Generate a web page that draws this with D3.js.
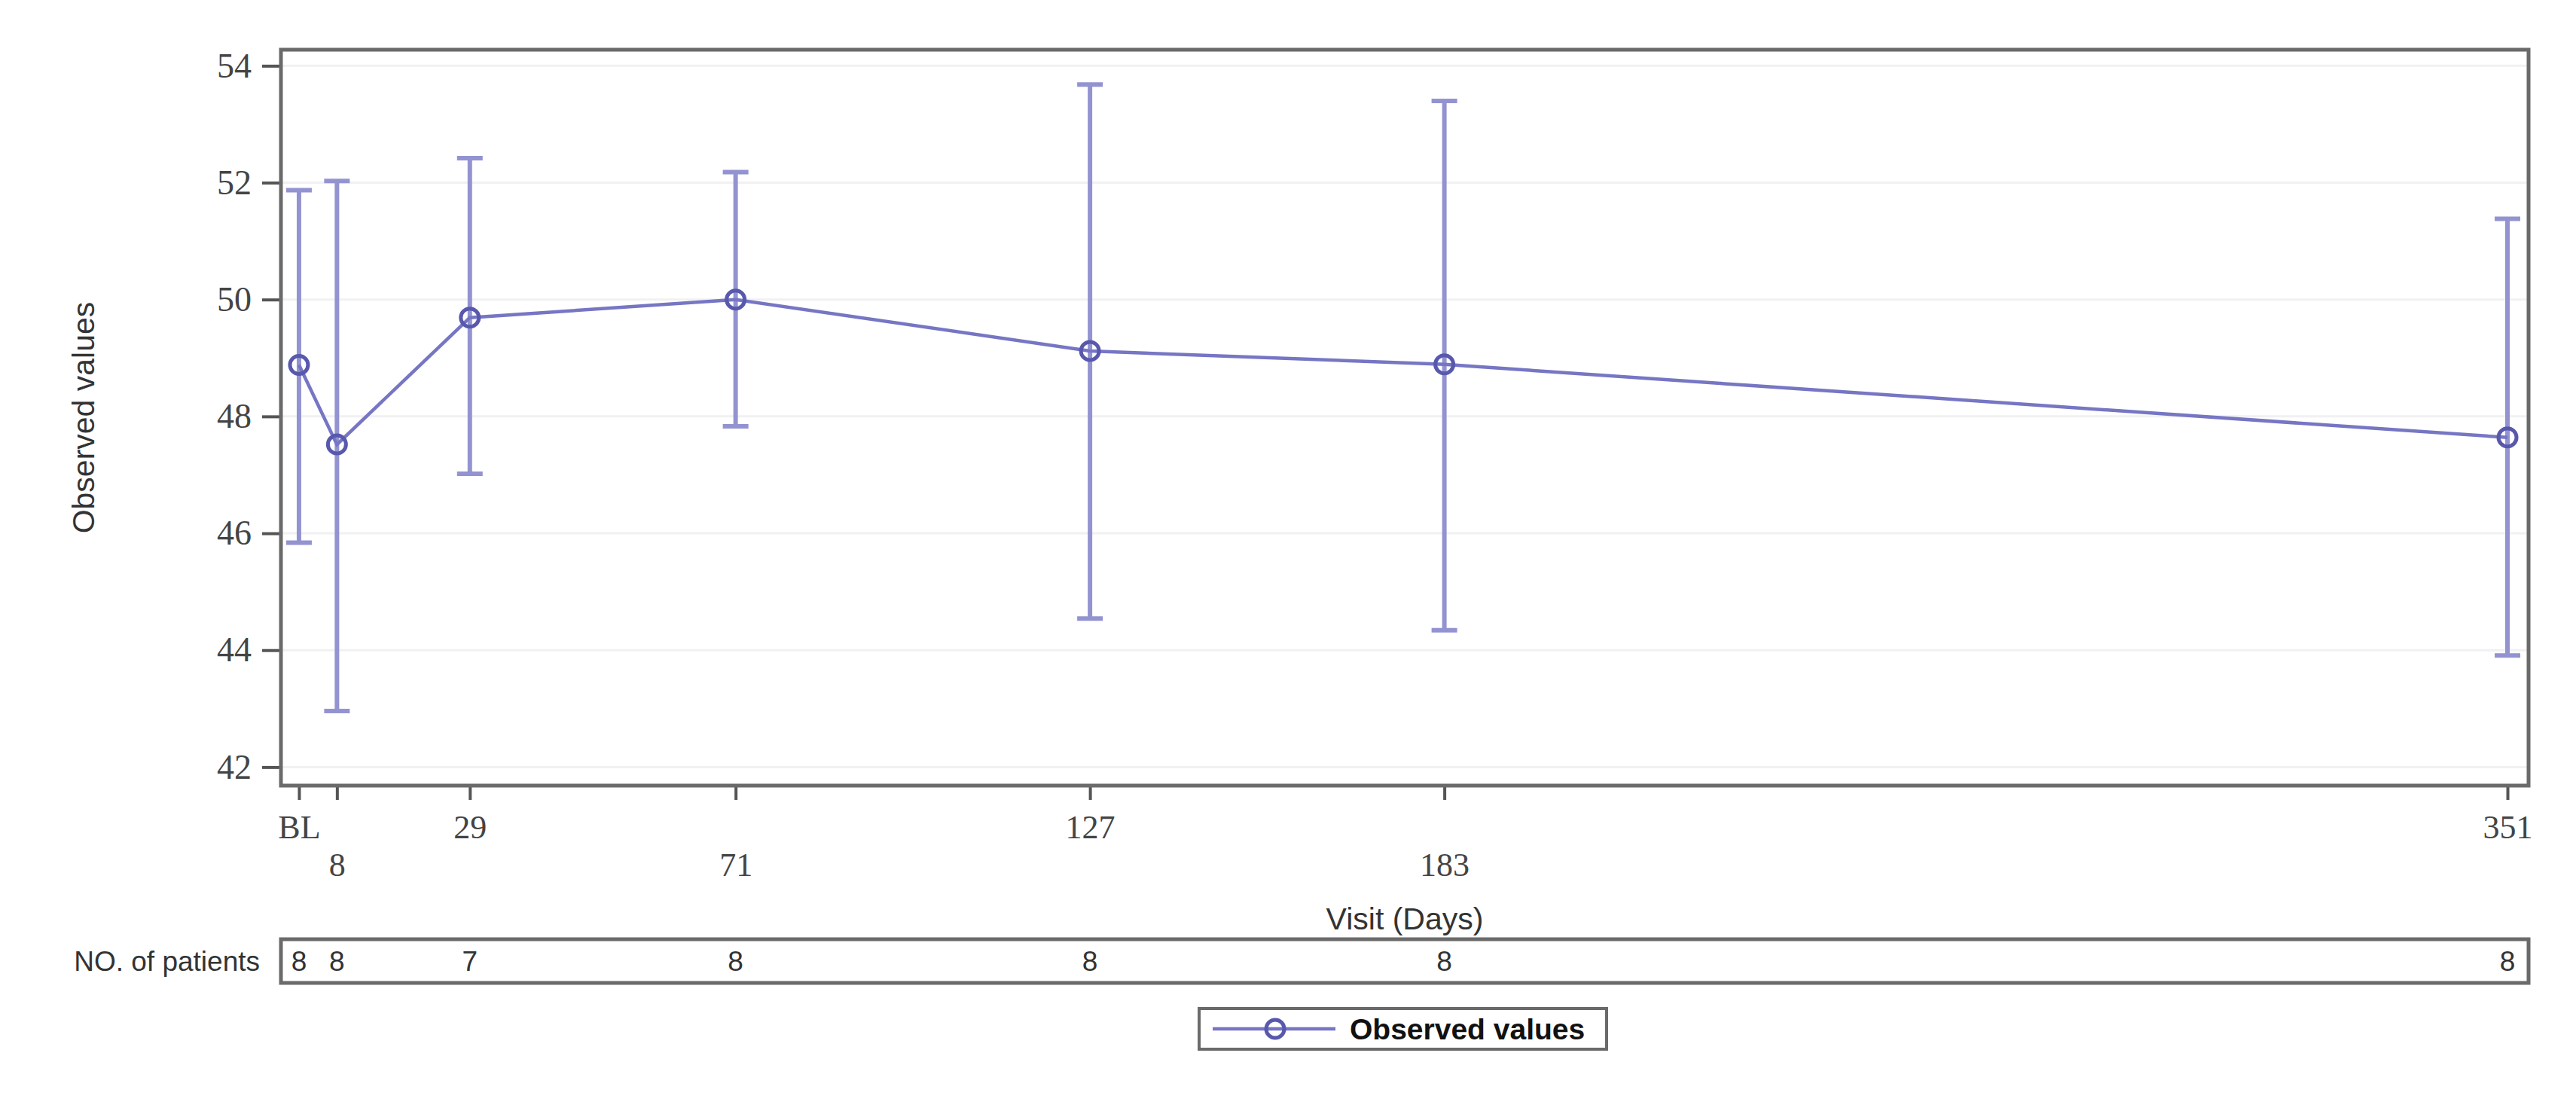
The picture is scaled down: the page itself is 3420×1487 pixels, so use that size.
<!DOCTYPE html>
<html>
<head>
<meta charset="utf-8">
<script src="https://cdn.jsdelivr.net/npm/d3@7"></script>
<style>
  html, body { margin: 0; padding: 0; background: #fff; }
  svg { display: block; }
</style>
</head>
<body>
<script>
// ---- data ----
const visitDays   = [2, 8, 29, 71, 127, 183, 351];
const visitLabels = ["BL", "8", "29", "71", "127", "183", "351"];
const meanValues  = [48.88, 47.52, 49.69, 50.00, 49.12, 48.89, 47.64];
const upperValues = [51.87, 52.03, 52.42, 52.18, 53.68, 53.40, 51.38];
const lowerValues = [45.84, 42.96, 47.02, 47.83, 44.54, 44.34, 43.91];
const patientCounts = [8, 8, 7, 8, 8, 8, 8];
const yTickValues = [42, 44, 46, 48, 50, 52, 54];
const seriesName = "Observed values";

// ---- layout ----
const W = 3420, H = 1487;
const plot = { left: 373, right: 3357, top: 66, bottom: 1043 };
const lineColor = "#7676c4";
const barColor = "#9393d2";
const markColor = "#5858ad";
const frameColor = "#6a6a6a";

const svg = d3.select("body").append("svg").attr("width", W).attr("height", H);

const x = d3.scaleLinear().domain([-0.85, 354.33]).range([plot.left, plot.right]);
const y = d3.scaleLinear().domain([41.683, 54.275]).range([plot.bottom, plot.top]);

const data = visitDays.map((d, i) => ({
  day: d, label: visitLabels[i], mean: meanValues[i],
  hi: upperValues[i], lo: lowerValues[i], n: patientCounts[i]
}));

// gridlines
svg.append("g").selectAll("line").data(yTickValues).join("line")
  .attr("x1", plot.left).attr("x2", plot.right)
  .attr("y1", d => y(d)).attr("y2", d => y(d))
  .attr("stroke", "#f1f1f3").attr("stroke-width", 3);

// y axis
const yAxis = svg.append("g").attr("transform", `translate(${plot.left},0)`)
  .call(d3.axisLeft(y).tickValues(yTickValues).tickSize(25).tickPadding(14).tickFormat(d3.format("d")));
yAxis.select(".domain").remove();
yAxis.selectAll(".tick line").attr("stroke", "#555").attr("stroke-width", 4);
yAxis.selectAll(".tick text").attr("fill", "#444")
  .style("font-family", "'Liberation Serif', 'DejaVu Serif', serif").style("font-size", "46px");

// x axis
const xAxis = svg.append("g").attr("transform", `translate(0,${plot.bottom})`)
  .call(d3.axisBottom(x).tickValues(visitDays).tickSize(19)
    .tickFormat((d, i) => visitLabels[i]));
xAxis.select(".domain").remove();
xAxis.selectAll(".tick line").attr("stroke", "#555").attr("stroke-width", 4);
xAxis.selectAll(".tick text")
  .attr("fill", "#444").attr("dy", 0)
  .attr("y", (d, i) => i % 2 === 0 ? 70 : 120)
  .style("font-family", "'Liberation Serif', 'DejaVu Serif', serif").style("font-size", "44px");

// frame
svg.append("rect")
  .attr("x", plot.left).attr("y", plot.top)
  .attr("width", plot.right - plot.left).attr("height", plot.bottom - plot.top)
  .attr("fill", "none").attr("stroke", frameColor).attr("stroke-width", 5);

// error bars
const eb = svg.append("g");
eb.selectAll("line.v").data(data).join("line").attr("class", "v")
  .attr("x1", d => x(d.day)).attr("x2", d => x(d.day))
  .attr("y1", d => y(d.hi)).attr("y2", d => y(d.lo))
  .attr("stroke", barColor).attr("stroke-width", 6);
["hi", "lo"].forEach(k => {
  eb.selectAll("line.c" + k).data(data).join("line").attr("class", "c" + k)
    .attr("x1", d => x(d.day) - 17).attr("x2", d => x(d.day) + 17)
    .attr("y1", d => y(d[k])).attr("y2", d => y(d[k]))
    .attr("stroke", barColor).attr("stroke-width", 6);
});

// mean line
svg.append("path").datum(data)
  .attr("d", d3.line().x(d => x(d.day)).y(d => y(d.mean)))
  .attr("fill", "none").attr("stroke", lineColor).attr("stroke-width", 4.5);

// markers
svg.append("g").selectAll("circle").data(data).join("circle")
  .attr("cx", d => x(d.day)).attr("cy", d => y(d.mean)).attr("r", 12)
  .attr("fill", "none").attr("stroke", markColor).attr("stroke-width", 5);

// axis titles
svg.append("text")
  .attr("transform", `translate(111,${(plot.top + plot.bottom) / 2}) rotate(-90)`)
  .attr("text-anchor", "middle").attr("dominant-baseline", "central")
  .attr("fill", "#333").style("font-family", "'Liberation Sans', Arial, sans-serif").style("font-size", "41px")
  .text("Observed values");

svg.append("text")
  .attr("x", (plot.left + plot.right) / 2).attr("y", 1234)
  .attr("text-anchor", "middle")
  .attr("fill", "#333").style("font-family", "'Liberation Sans', Arial, sans-serif").style("font-size", "41px")
  .text("Visit (Days)");

// patients table
const tab = { top: 1247, bottom: 1305 };
svg.append("rect")
  .attr("x", plot.left).attr("y", tab.top)
  .attr("width", plot.right - plot.left).attr("height", tab.bottom - tab.top)
  .attr("fill", "none").attr("stroke", frameColor).attr("stroke-width", 5);
svg.append("text")
  .attr("x", 345).attr("y", (tab.top + tab.bottom) / 2 + 13)
  .attr("text-anchor", "end")
  .attr("fill", "#333").style("font-family", "'Liberation Sans', Arial, sans-serif").style("font-size", "37px")
  .text("NO. of patients");
svg.append("g").selectAll("text").data(data).join("text")
  .attr("x", d => x(d.day)).attr("y", (tab.top + tab.bottom) / 2 + 13)
  .attr("text-anchor", "middle")
  .attr("fill", "#333").style("font-family", "'Liberation Sans', Arial, sans-serif").style("font-size", "37px")
  .text(d => d.n);

// legend
const lg = svg.append("g");
lg.append("rect").attr("x", 1592).attr("y", 1339).attr("width", 541).attr("height", 54)
  .attr("fill", "#fff").attr("stroke", frameColor).attr("stroke-width", 4);
lg.append("line").attr("x1", 1610).attr("x2", 1773).attr("y1", 1366).attr("y2", 1366)
  .attr("stroke", lineColor).attr("stroke-width", 4.5);
lg.append("circle").attr("cx", 1693).attr("cy", 1366).attr("r", 12)
  .attr("fill", "none").attr("stroke", markColor).attr("stroke-width", 5);
lg.append("text").attr("x", 1792).attr("y", 1380)
  .attr("fill", "#111").style("font-family", "'Liberation Sans', Arial, sans-serif")
  .style("font-size", "39px").style("font-weight", "bold")
  .text(seriesName);
</script>
</body>
</html>
